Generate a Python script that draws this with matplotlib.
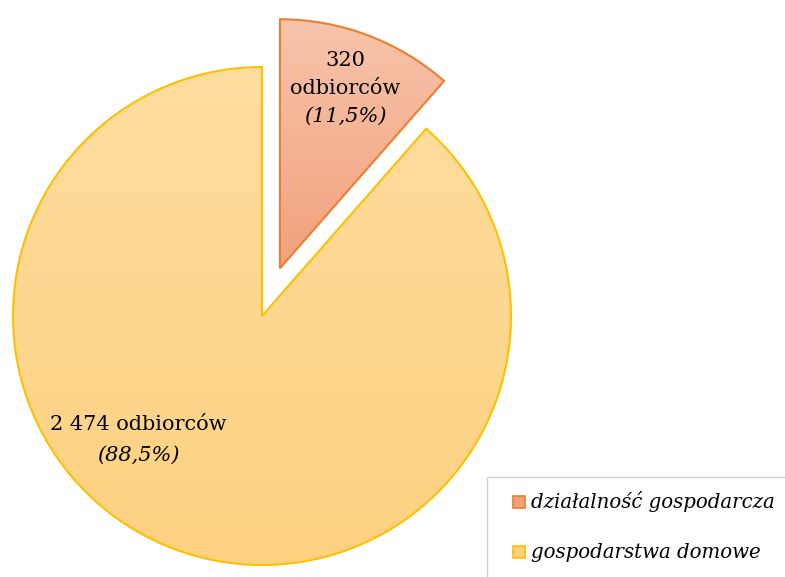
import numpy as np
import matplotlib
matplotlib.use("Agg")
import matplotlib.pyplot as plt
from matplotlib.patches import Rectangle
from matplotlib.colors import LinearSegmentedColormap

categories = ["działalność gospodarcza", "gospodarstwa domowe"]
values = [320, 2474]
count_labels = [["320", "odbiorców"], ["2 474 odbiorców"]]
edge_colors = ["#ED7D31", "#FFC000"]
grad_top = ["#F7C4AB", "#FEDD9F"]
grad_bottom = ["#F3A17C", "#FDD180"]

W, H = 785, 577
fig = plt.figure(figsize=(W / 100, H / 100), dpi=100)
ax = fig.add_axes([0, 0, 1, 1])

cx, cy, r = 262, H - 316, 249
wedges, _ = ax.pie(values, center=(cx, cy), radius=r, startangle=90,
                   counterclock=False, explode=[51, 0],
                   wedgeprops=dict(linewidth=1.5), frame=True)
ax.set_xlim(0, W)
ax.set_ylim(0, H)
ax.set_aspect("equal")
ax.axis("off")

for w, ec, t, b in zip(wedges, edge_colors, grad_top, grad_bottom):
    w.set_facecolor("none")
    w.set_edgecolor(ec)
    w.set_zorder(3)
    ext = w.get_path().get_extents(w.get_patch_transform())
    cmap = LinearSegmentedColormap.from_list("g", [b, t])
    grad = np.linspace(0, 1, 256).reshape(-1, 1)
    im = ax.imshow(grad, cmap=cmap, origin="lower", aspect="auto",
                   extent=[ext.x0, ext.x1, ext.y0, ext.y1], zorder=2)
    im.set_clip_path(w)

total = sum(values)
pcts = [f"({v / total * 100:.1f}%)".replace(".", ",") for v in values]

serif = ["DejaVu Serif"]
fs = 15
ax.text(345, H - 60, count_labels[0][0], ha="center", va="center", fontsize=fs,
        family=serif, zorder=5)
ax.text(345, H - 88, count_labels[0][1], ha="center", va="center", fontsize=fs,
        family=serif, zorder=5)
ax.text(345, H - 116, pcts[0], ha="center", va="center", fontsize=fs,
        family=serif, style="italic", zorder=5)
ax.text(138, H - 424, count_labels[1][0], ha="center", va="center", fontsize=fs,
        family=serif, zorder=5)
ax.text(138, H - 455, pcts[1], ha="center", va="center", fontsize=fs,
        family=serif, style="italic", zorder=5)

# legend box
ax.add_patch(Rectangle((487, -10), 320, H - 477 + 10, facecolor="white",
                       edgecolor="#D0D0D0", linewidth=1, zorder=6, clip_on=True))
ys = [H - 502, H - 552]
for y, cat, ec, t, b in zip(ys, categories, edge_colors, grad_top, grad_bottom):
    ax.add_patch(Rectangle((513, y - 6), 12, 12, facecolor=b, edgecolor=ec,
                           linewidth=1.2, zorder=7))
    ax.text(531, y, cat, ha="left", va="center", fontsize=14.2, family=serif,
            style="italic", zorder=7)

fig.savefig("out.png", dpi=100)
